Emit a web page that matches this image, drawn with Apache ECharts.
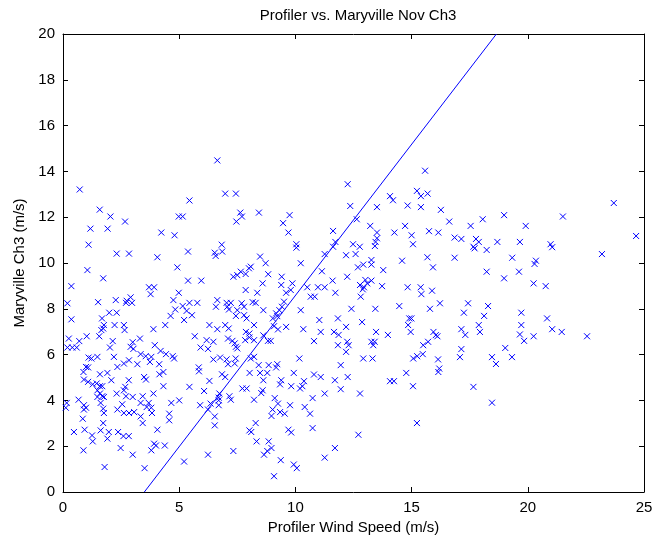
<!DOCTYPE html>
<html>
<head>
<meta charset="utf-8">
<script src="https://cdn.jsdelivr.net/npm/echarts@6/dist/echarts.min.js"></script>
<style>html,body{margin:0;padding:0;background:#fff;}#c{width:657px;height:544px;}</style>
</head>
<body>
<div id="c"></div>
<script>
var titleText = 'Profiler vs. Maryville Nov Ch3';
var xName = 'Profiler Wind Speed (m/s)';
var yName = 'Maryville Ch3 (m/s)';
var xTicks = [0, 5, 10, 15, 20, 25];
var yTicks = [0, 2, 4, 6, 8, 10, 12, 14, 16, 18, 20];
var fitLine = [[3.5, 0], [18.65, 20]];
var points = [
[6.64,14.48],[0.72,13.21],[6.98,13.03],[7.44,13.03],[5.44,12.73],[1.58,12.33],[2.04,12.03],[2.67,11.81],[4.98,12.03],[5.15,12.03],[7.63,12.2],[7.70,12.03],[7.46,11.81],[1.18,11.5],[1.92,11.5],[4.23,11.33],[4.8,11.21],[1.1,10.8],[6.83,10.8],
[15.58,14.03],[12.25,13.44],[15.23,13.15],[15.4,12.92],[15.69,13.03],[14.07,12.92],[14.2,12.74],[12.36,12.49],[13.51,12.44],[14.83,12.51],[15.4,12.44],[16.26,12.32],[8.43,12.2],[9.75,12.09],[9.47,11.74],[9.7,11.33],[10.04,10.82],[10.04,10.67],[12.64,11.91],[13.22,11.62],[11.62,11.4],[13.51,11.33],[13.51,11.08],[13.45,10.92],[13.42,10.74],[14.72,11.62],[14.26,11.33],[15.0,11.21],[15.75,11.39],[16.15,11.33],[15.06,10.82],[11.72,10.92],[11.62,10.71],[12.48,10.82],[12.77,10.71],
[23.7,12.62],[16.62,11.81],[17.54,11.62],[18.06,11.91],[18.98,12.09],[19.91,11.62],[21.51,12.03],[16.85,11.11],[17.14,11.05],[17.77,11.05],[17.89,10.92],[18.69,10.92],[19.66,10.92],[20.98,10.82],[21.05,10.69],[17.66,10.71],[17.71,10.64],[18.23,10.57],[24.66,11.18],
[23.19,10.39],[16.85,10.23],[19.33,10.23],[20.35,10.1],[20.29,9.96],[18.23,9.62],[19.62,9.62],[18.98,9.33],[20.25,9.11],[20.77,8.99],[17.43,8.24],[18.29,8.12],[17.25,7.83],[18.12,7.69],[19.72,7.83],[20.83,7.58],[17.89,7.29],[19.72,7.29],[17.14,7.11],[17.31,6.86],[17.94,6.99],[19.66,6.88],[19.84,6.6],[20.25,6.8],[21.05,7.11],[21.46,6.99],[22.55,6.8],[17.14,6.24],[19.03,6.29],[17.08,5.89],[18.46,5.89],[19.32,5.89],[18.63,5.59],
[17.66,4.59],[18.46,3.9],
[8.48,5.2],[8.79,5.2],[9.93,5.2],[10.8,5.13],[11.09,5.02],[11.7,4.88],[12.25,5.02],[8.62,4.88],[9.39,4.88],[9.34,4.7],[10.37,4.84],[10.3,4.62],[10.2,4.52],[9.82,4.62],[14.07,4.84],[14.24,4.84],[14.77,5.2],[16.15,5.24],[15.06,4.62],[11.95,4.49],[11.26,4.3],[12.78,4.3],[8.53,4.32],[8.59,4.44],[8.22,4.03],[9.11,4.1],[10.74,4.1],[9.25,3.86],[9.77,3.79],[10.4,3.71],[9.02,3.6],[8.97,3.32],[9.34,3.49],[9.54,3.42],[10.63,3.42],[8.29,3.01],[9.7,2.72],[9.82,2.6],[10.74,2.79],[15.23,3.01],[12.71,2.5],[8.33,2.21],[8.85,2.21],[8.97,1.92],[8.79,1.79],[8.65,1.63],[11.7,1.92],[11.26,1.5],[9.37,1.39],[9.93,1.2],[10.06,1.04],[9.08,0.69],
[0.88,5.24],[1.59,5.14],[1.91,5.2],[3.49,5.02],[3.57,4.91],[4.15,5.14],[4.32,5.24],[5.85,5.27],[6.84,5.14],[6.98,5.02],[8.03,5.2],
[0.9,4.91],[1.08,4.81],[1.28,4.7],[1.45,4.74],[1.59,4.62],[1.69,4.62],[2.08,4.88],[2.68,4.59],[2.83,4.88],[2.62,4.44],
[1.48,4.44],[1.59,4.3],[1.69,4.18],[1.48,4.15],[1.76,4.15],[4.32,4.62],[5.44,4.59],[6.07,4.41],[6.3,4.85],[6.73,4.3],[7.16,4.18],[7.22,4.03],[6.7,4.0],[7.72,4.52],[7.9,4.52],
[2.31,4.3],[2.71,4.18],[3.0,4.15],[3.43,4.18],[3.34,3.89],[3.89,4.3],[0.67,4.03],[0.16,3.89],[0.12,3.68],[0.9,3.79],[0.99,3.68],[0.9,3.6],[1.62,3.89],[1.73,3.64],[1.76,3.45],
[2.55,3.83],[2.34,3.6],[2.62,3.45],[2.84,3.45],[3.06,3.49],[3.69,3.89],[3.8,3.68],[3.83,3.45],[3.6,3.71],[3.34,3.3],[3.43,3.01],[4.66,3.89],[5.0,4.0],[4.57,3.42],[4.57,3.13],
[5.9,3.79],[6.24,3.6],[6.35,3.86],[6.7,3.79],[6.7,4.12],[6.53,3.3],[6.53,2.91],[0.85,3.2],[1.73,3.01],[0.47,2.62],[0.93,2.72],[1.25,2.47],[1.28,2.21],[1.62,2.69],[1.97,2.62],[1.91,2.33],
[2.37,2.62],[2.6,2.44],[2.83,2.44],[4.06,2.72],[3.92,2.11],[4.0,2.03],[3.8,1.82],[4.38,2.03],[2.48,1.92],[0.88,1.82],[3.0,1.63],[5.21,1.33],[6.24,1.63],[7.33,1.79],[1.79,1.09],[3.51,1.04],[8.02,2.69],[8.1,2.62],
[2.31,10.41],[2.84,10.41],[4.06,10.25],[5.38,10.5],[6.53,10.45],[6.85,10.5],[6.57,10.31],[1.05,9.69],[1.73,9.33],[4.92,9.81],[5.38,9.23],[5.95,9.23],
[7.33,9.4],[7.5,9.47],[7.65,9.62],[7.86,9.52],[8.0,9.77],[8.08,9.84],[0.36,8.99],[3.7,8.94],[3.92,8.94],[3.77,8.64],[4.98,8.7],[7.86,8.82],
[0.19,8.24],[1.51,8.29],[2.27,8.38],[2.74,8.35],[2.91,8.5],[2.71,8.26],[2.97,8.26],[4.75,8.38],[5.44,8.26],[5.78,8.26],[5.15,8.12],[4.83,7.97],[5.32,7.91],[4.63,7.69],[5.55,7.72],[5.21,7.51],
[6.64,8.38],[6.58,8.09],[7.04,8.26],[7.22,8.26],[7.07,8.09],[7.14,7.97],[7.69,8.24],[7.79,8.09],[8.16,8.29],[7.5,7.94],[7.44,7.69],[7.79,7.72],[7.9,7.58],
[0.36,7.54],[1.99,7.83],[2.31,7.83],[1.68,7.58],[2.22,7.29],[2.62,7.29],[1.76,7.29],[1.73,7.14],[1.65,7.07],[2.65,7.07],[3.89,7.11],[4.4,7.29],
[6.3,7.29],[6.64,7.11],[6.98,7.29],[7.13,7.14],[7.87,6.99],[8.02,6.92],[0.25,6.7],[0.7,6.59],[1.02,6.8],[0.19,6.31],[0.4,6.31],[0.59,6.31],[1.56,6.8],[2.14,6.59],[2.02,6.31],
[3.0,6.54],[2.91,6.34],[3.31,6.7],[3.95,6.41],[5.67,6.8],[6.18,6.63],[6.24,6.25],[6.47,6.56],[7.1,6.7],[7.29,6.6],[7.39,6.49],[7.44,6.34],[7.5,6.27],[7.84,6.63],[8.02,6.75],[5.92,6.31],[3.03,6.25],
[3.34,6.02],[3.56,5.93],[3.8,5.9],[3.74,5.68],[4.2,6.16],[4.43,6.02],[4.72,5.93],[4.78,5.83],[1.1,5.87],[1.22,5.83],[1.48,5.9],[2.19,5.9],[2.84,5.75],[2.62,5.61],[2.34,5.46],[3.2,5.58],[4.14,5.58],
[0.99,5.46],[1.08,5.44],[5.84,5.44],[6.47,5.79],[6.76,5.87],[7.04,5.79],[7.43,5.83],[7.1,5.58],[7.39,5.61],[8.08,5.83],
[8.48,10.28],[8.72,9.99],[11.26,10.39],[12.18,10.34],[12.59,10.39],[10.23,9.99],[8.83,9.51],[9.41,9.4],[9.39,9.04],[9.87,9.11],[9.8,8.82],[9.6,8.7],[8.59,9.11],[8.36,8.7],[8.29,8.26],
[11.14,9.64],[11.6,9.23],[10.51,8.94],[10.97,8.94],[11.26,8.94],[10.66,8.53],[10.83,8.53],[11.72,8.7],[12.23,9.4],[12.69,9.81],[12.92,9.93],[13.27,9.93],[13.27,10.13],[13.78,9.69],[14.59,10.1],[15.68,10.25],[15.92,9.81],
[12.78,9.04],[12.95,8.94],[13.09,9.11],[13.27,9.23],[13.01,9.26],[12.9,8.85],[12.81,8.53],[13.73,8.99],[14.83,8.94],[15.39,8.94],[15.42,8.64],[15.88,8.79],[16.22,8.24],[14.47,8.12],[15.79,8.0],[12.41,8.0],[13.44,8.0],[8.62,7.94],[10.23,7.94],
[9.51,8.31],[9.42,8.09],[9.31,7.94],[9.17,7.8],[9.03,7.58],[9.22,7.68],[9.08,7.24],[9.25,7.1],[9.6,7.21],[8.22,7.29],[8.62,6.84],[8.82,6.6],[8.94,6.6],[8.22,6.63],
[11.03,7.51],[11.83,7.58],[12.18,7.21],[12.87,7.42],[10.34,7.11],[11.09,6.99],[11.66,6.99],[11.86,6.86],[10.8,6.59],[11.83,6.41],[12.23,6.56],[12.29,6.41],[13.47,6.99],[13.27,6.56],[13.35,6.41],[13.41,6.56],[13.98,6.86],
[14.9,7.58],[14.99,7.58],[14.85,7.29],[14.96,6.99],[15.94,6.99],[16.04,6.85],[16.11,6.8],[15.5,6.41],[15.71,6.56],[15.24,5.93],[15.48,6.02],[15.07,5.83],[16.14,5.79],[10.17,5.83],[12.92,5.83],[13.32,5.83],[12.18,6.12],[11.95,5.54],
[8.42,5.54],[8.85,5.54],[9.22,5.58],[9.17,5.44],[8.22,5.9],[16.19,5.39]
];

var FONT = 'Liberation Sans, Arial, sans-serif';
var chart = echarts.init(document.getElementById('c'), null, {renderer: 'canvas'});
function axisBase(extra) {
  var a = {
    axisLine: {show: true, onZero: false, lineStyle: {color: '#000', width: 1}},
    axisTick: {show: true, inside: true, length: 5, lineStyle: {color: '#000', width: 1}},
    splitLine: {show: false},
    axisLabel: {show: true, color: '#000', fontFamily: FONT, fontSize: 15},
    nameTextStyle: {color: '#000', fontFamily: FONT, fontSize: 15}
  };
  for (var k in extra) a[k] = extra[k];
  return a;
}
chart.setOption({
  animation: false,
  backgroundColor: '#fff',
  title: {
    text: titleText, left: 353, top: 3, textAlign: 'center',
    textStyle: {color: '#000', fontFamily: FONT, fontSize: 15, fontWeight: 'normal'}
  },
  grid: {left: 63, right: 13, top: 34, bottom: 52, containLabel: false},
  xAxis: [
    axisBase({type: 'value', min: xTicks[0], max: xTicks[xTicks.length - 1], interval: 5, position: 'bottom',
      name: xName, nameLocation: 'middle', nameGap: 24}),
    axisBase({type: 'value', min: xTicks[0], max: xTicks[xTicks.length - 1], interval: 5, position: 'top',
      axisLabel: {show: false}})
  ],
  yAxis: [
    axisBase({type: 'value', min: yTicks[0], max: yTicks[yTicks.length - 1], interval: 2, position: 'left',
      name: yName, nameLocation: 'middle', nameGap: 34, nameRotate: 90}),
    axisBase({type: 'value', min: yTicks[0], max: yTicks[yTicks.length - 1], interval: 2, position: 'right',
      axisLabel: {show: false}})
  ],
  series: [
    {
      type: 'scatter', xAxisIndex: 0, yAxisIndex: 0,
      symbol: 'path://M0,0L10,10M10,0L0,10', symbolSize: 6,
      itemStyle: {color: 'rgba(0,0,0,0)', borderColor: '#0000ff', borderWidth: 1, opacity: 1},
      data: points, silent: true, clip: true
    },
    {
      type: 'line', xAxisIndex: 0, yAxisIndex: 0, data: fitLine, symbol: 'none',
      lineStyle: {color: '#0000ff', width: 1}, silent: true, clip: true
    }
  ]
});
</script>
</body>
</html>
